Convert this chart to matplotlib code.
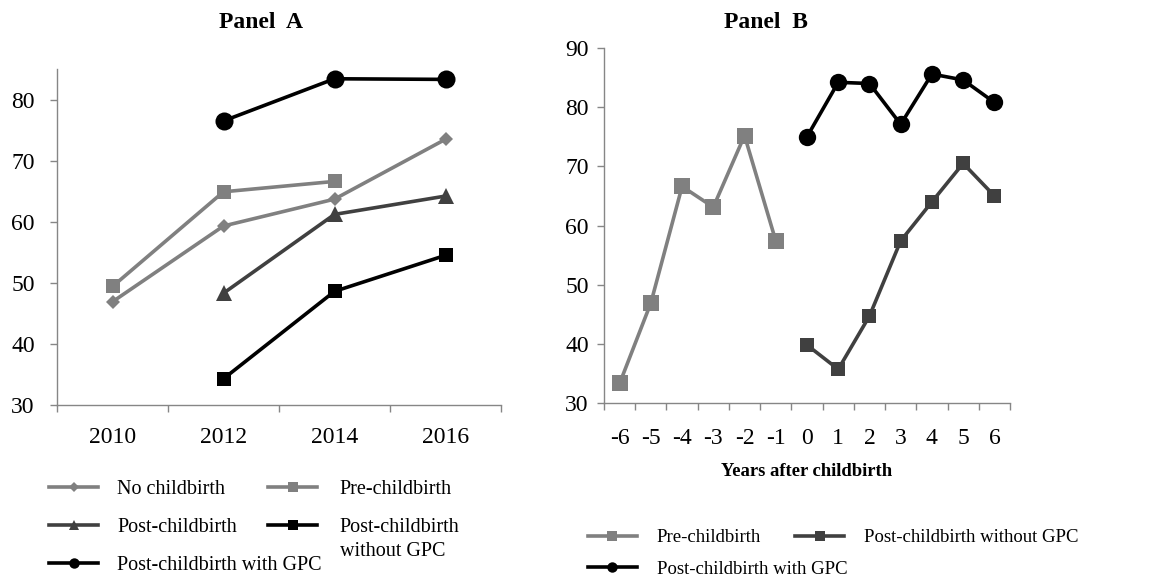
import matplotlib
matplotlib.use("Agg")
import matplotlib.pyplot as plt
import numpy as np
from matplotlib.lines import Line2D

plt.rcParams["font.family"] = ["Liberation Serif", "DejaVu Serif"]

nan = np.nan

# Panel A: survey waves
years = ["2010", "2012", "2014", "2016"]
no_child = [46.9, 59.3, 63.7, 73.5]
pre_a = [49.4, 64.9, 66.6, nan]
post_a = [nan, 48.3, 61.2, 64.2]
post_wo_a = [nan, 34.3, 48.6, 54.5]
post_w_a = [nan, 76.5, 83.4, 83.3]

# Panel B: years relative to childbirth
rel_years = [-6, -5, -4, -3, -2, -1, 0, 1, 2, 3, 4, 5, 6]
pre_b = [33.3, 46.9, 66.6, 63.1, 75.2, 57.4, nan, nan, nan, nan, nan, nan, nan]
post_wo_b = [nan, nan, nan, nan, nan, nan, 39.8, 35.7, 44.7, 57.4, 64.0, 70.5, 65.0]
post_w_b = [nan, nan, nan, nan, nan, nan, 75.0, 84.2, 84.0, 77.1, 85.6, 84.6, 80.8]

GRAY = "#808080"
DARK = "#404040"
BLACK = "#000000"
AXIS = "#868686"

W, H = 1155, 584
fig = plt.figure(figsize=(W / 100, H / 100), dpi=100)


def px_axes(left, top, right, bottom):
    return fig.add_axes([left / W, 1 - bottom / H, (right - left) / W, (bottom - top) / H])


def style_axes(ax, ypad, xpad):
    for side in ("top", "right"):
        ax.spines[side].set_visible(False)
    for side in ("left", "bottom"):
        ax.spines[side].set_color(AXIS)
        ax.spines[side].set_linewidth(1.0)
    ax.tick_params(axis="y", which="major", direction="out", length=5, width=1.0,
                   color=AXIS, labelsize=17, pad=ypad)
    ax.tick_params(axis="x", which="major", direction="out", length=5, width=1.0,
                   color=AXIS, labelbottom=False)
    ax.tick_params(axis="x", which="minor", length=0, labelsize=17, pad=xpad)


def line(ax, x, y, color, marker, ms, lw=2.6):
    ax.plot(x, y, color=color, marker=marker, markersize=ms, linewidth=lw,
            markeredgewidth=0, solid_joinstyle="round", clip_on=False)


# ---- Panel A ----
axA = px_axes(57, 69, 501, 405)
xa = np.arange(len(years))
line(axA, xa, no_child, GRAY, "D", 7)
line(axA, xa, pre_a, GRAY, "s", 9.5)
line(axA, xa, post_a, DARK, "^", 11)
line(axA, xa, post_wo_a, BLACK, "s", 9.5)
line(axA, xa, post_w_a, BLACK, "o", 13)
axA.set_xlim(-0.5, len(years) - 0.5)
axA.set_ylim(30, 85)
axA.set_yticks([30, 40, 50, 60, 70, 80])
axA.set_xticks(np.arange(len(years) + 1) - 0.5)
axA.set_xticks(xa, minor=True)
axA.set_xticklabels(years, minor=True)
style_axes(axA, 11, 16)
fig.text(261 / W, 1 - 23 / H, "Panel  A", ha="center", va="center",
         fontsize=17, fontweight="bold")

# ---- Panel B ----
axB = px_axes(604, 48, 1010, 403)
line(axB, rel_years, pre_b, GRAY, "s", 12)
line(axB, rel_years, post_wo_b, DARK, "s", 9.5)
line(axB, rel_years, post_w_b, BLACK, "o", 12.5)
axB.set_xlim(rel_years[0] - 0.5, rel_years[-1] + 0.5)
axB.set_ylim(30, 90)
axB.set_yticks(np.arange(30, 91, 10))
axB.set_xticks(np.arange(rel_years[0], rel_years[-1] + 2) - 0.5)
axB.set_xticks(rel_years, minor=True)
axB.set_xticklabels([str(v) for v in rel_years], minor=True)
style_axes(axB, 6, 18)
fig.text(766 / W, 1 - 23 / H, "Panel  B", ha="center", va="center",
         fontsize=17, fontweight="bold")
fig.text(807 / W, 1 - 472 / H, "Years after childbirth", ha="center", va="center",
         fontsize=13.4, fontweight="bold")


def handle(color, marker, ms):
    return Line2D([], [], color=color, marker=marker, markersize=ms, linewidth=2.6,
                  markeredgewidth=0)


def legend(handles, labels, x, y, fs, spacing, textpad):
    leg = fig.legend(handles, labels, loc="upper left", bbox_to_anchor=(x / W, 1 - y / H),
                     frameon=False, fontsize=fs, handlelength=49 / (fs * 100 / 72),
                     handletextpad=textpad, labelspacing=spacing, borderpad=0,
                     borderaxespad=0)
    return leg


# Panel A legend: two separate columns
legend([handle(GRAY, "D", 5), handle(DARK, "^", 7), handle(BLACK, "o", 7.5)],
       ["No childbirth", "Post-childbirth", "Post-childbirth with GPC"],
       49, 480, 14.5, 0.93, 0.95)
legend([handle(GRAY, "s", 6.5), handle(BLACK, "s", 6.5)],
       ["Pre-childbirth", "Post-childbirth"],
       268, 480, 14.5, 0.93, 1.1)
fig.text(340 / W, 1 - 551 / H, "without GPC", ha="left", va="center", fontsize=14.5)

# Panel B legend
legend([handle(GRAY, "s", 6.5), handle(BLACK, "o", 7.5)],
       ["Pre-childbirth", "Post-childbirth with GPC"],
       588, 529, 13.5, 0.77, 1.05)
legend([handle(DARK, "s", 6.5)], ["Post-childbirth without GPC"],
       795, 529, 13.5, 0.77, 1.05)

fig.savefig("out.png", dpi=100)
